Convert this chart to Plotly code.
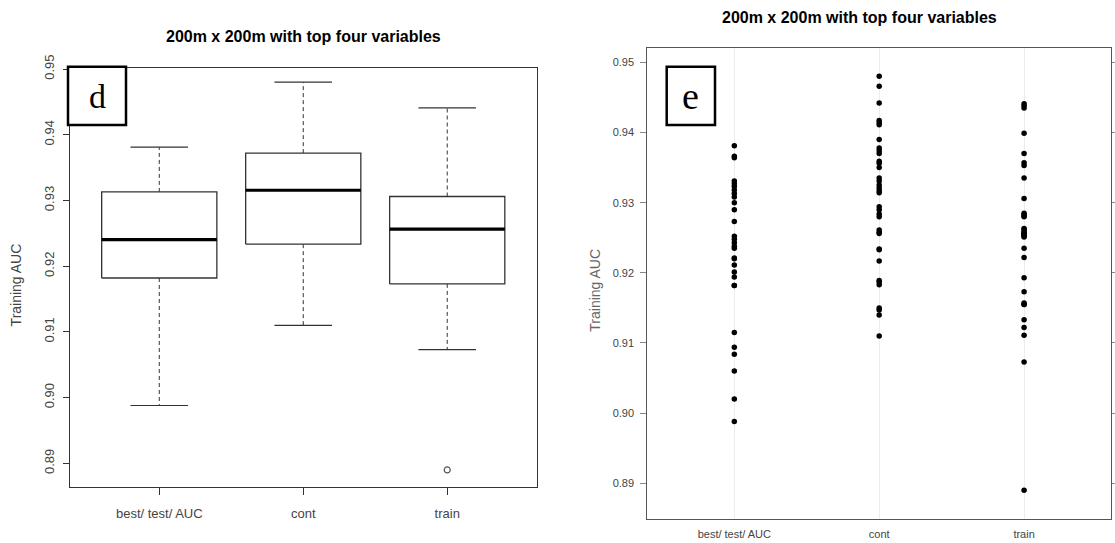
import numpy as np
import plotly.graph_objects as go

# ---------------- data ----------------
categories = ["best/ test/ AUC", "cont", "train"]

best_auc = [0.9381, 0.9366, 0.9364, 0.9331, 0.9327, 0.9323, 0.9318, 0.9313, 0.9308,
            0.9300, 0.9290, 0.9273, 0.9252, 0.9248, 0.9243, 0.9238, 0.9235, 0.9221,
            0.9220, 0.9211, 0.9201, 0.9194, 0.9182, 0.9182, 0.9115, 0.9094, 0.9084,
            0.9060, 0.9020, 0.8988]

cont_auc = [0.9480, 0.9466, 0.9442, 0.9417, 0.9414, 0.9411, 0.9390, 0.9378, 0.9374,
            0.9370, 0.9359, 0.9356, 0.9350, 0.9335, 0.9331, 0.9325, 0.9321, 0.9317,
            0.9314, 0.9294, 0.9290, 0.9284, 0.9280, 0.9261, 0.9258, 0.9256, 0.9234,
            0.9233, 0.9217, 0.9189, 0.9187, 0.9183, 0.9150, 0.9147, 0.9140, 0.9110]

train_auc = [0.9441, 0.9438, 0.9435, 0.9399, 0.9370, 0.9357, 0.9353, 0.9335, 0.9306,
             0.9285, 0.9283, 0.9281, 0.9280, 0.9263, 0.9262, 0.9259, 0.9257, 0.9256,
             0.9255, 0.9254, 0.9252, 0.9251, 0.9235, 0.9222, 0.9193, 0.9173, 0.9157,
             0.9155, 0.9155, 0.9133, 0.9122, 0.9111, 0.9073, 0.8890]

groups = [best_auc, cont_auc, train_auc]

left_y_ticks = [0.89, 0.90, 0.91, 0.92, 0.93, 0.94, 0.95]
left_y_ticktext = ["0.89", "0.90", "0.91", "0.92", "0.93", "0.94", "0.95"]
right_y_ticks = [0.89, 0.90, 0.91, 0.92, 0.93, 0.94, 0.95]
right_y_ticktext = ["0.89", "0.90", "0.91", "0.92", "0.93", "0.94", "0.95"]

title_text = "200m x 200m with top four variables"
y_title = "Training AUC"


def fivenum(v):
    x = np.sort(np.asarray(v, dtype=float))
    n = len(x)
    n4 = np.floor((n + 3) / 2) / 2
    d = np.array([1, n4, (n + 1) / 2, n + 1 - n4, n])
    return 0.5 * (x[np.floor(d).astype(int) - 1] + x[np.ceil(d).astype(int) - 1])


def box_stats(v, coef=1.5):
    x = np.asarray(v, dtype=float)
    s = fivenum(x)
    iqr = s[3] - s[1]
    out = (x < s[1] - coef * iqr) | (x > s[3] + coef * iqr)
    inside = x[~out]
    return dict(lo=inside.min(), q1=s[1], med=s[2], q3=s[3], hi=inside.max(),
                out=list(x[out]))


W, H = 1115, 543
fig = go.Figure()

BOXC = "#333333"
hw = 0.4    # half box width (R boxwex 0.8)
cw = 0.2    # half staple width

for i, g in enumerate(groups):
    st = box_stats(g)
    c = i + 1
    fig.add_trace(go.Scatter(x=[c, c, None, c, c],
                             y=[st["q3"], st["hi"], None, st["q1"], st["lo"]],
                             mode="lines", line=dict(color=BOXC, width=1, dash="4px,3px"),
                             xaxis="x", yaxis="y", showlegend=False, hoverinfo="skip"))
    fig.add_trace(go.Scatter(x=[c - cw, c + cw, None, c - cw, c + cw],
                             y=[st["hi"], st["hi"], None, st["lo"], st["lo"]],
                             mode="lines", line=dict(color=BOXC, width=1.2),
                             xaxis="x", yaxis="y", showlegend=False, hoverinfo="skip"))
    fig.add_trace(go.Scatter(x=[c - hw, c + hw, c + hw, c - hw, c - hw],
                             y=[st["q1"], st["q1"], st["q3"], st["q3"], st["q1"]],
                             mode="lines", fill="toself", fillcolor="white",
                             line=dict(color=BOXC, width=1.3),
                             xaxis="x", yaxis="y", showlegend=False, hoverinfo="skip"))
    fig.add_trace(go.Scatter(x=[c - hw, c + hw], y=[st["med"], st["med"]],
                             mode="lines", line=dict(color="black", width=3.2),
                             xaxis="x", yaxis="y", showlegend=False, hoverinfo="skip"))
    if st["out"]:
        fig.add_trace(go.Scatter(x=[c] * len(st["out"]), y=st["out"], mode="markers",
                                 marker=dict(symbol="circle-open", size=6,
                                             color="#555555", line=dict(width=1.2)),
                                 xaxis="x", yaxis="y", showlegend=False))

for i, g in enumerate(groups):
    fig.add_trace(go.Scatter(x=[i + 1] * len(g), y=g, mode="markers",
                             marker=dict(color="black", size=5.5),
                             xaxis="x2", yaxis="y2", showlegend=False))


def px_x(v):
    return v / W


def px_y(v):
    return (H - v) / H


left_font = dict(family="Liberation Sans, Arial", size=13, color="#444444")
right_font = dict(family="Liberation Sans, Arial", size=11, color="#444444")

fig.update_layout(
    template="none",
    width=W, height=H,
    margin=dict(l=0, r=0, t=0, b=0, pad=0, autoexpand=False),
    paper_bgcolor="white", plot_bgcolor="white",
    xaxis=dict(domain=[px_x(70), px_x(536.5)], range=[0.38, 3.62], automargin=False,
               tickvals=[1, 2, 3], ticktext=categories, ticks="outside", ticklen=7,
               tickcolor=BOXC, showline=True, linecolor=BOXC, linewidth=1.3, mirror=True,
               showgrid=False, zeroline=False, tickfont=left_font, ticklabelstandoff=8),
    yaxis=dict(domain=[px_y(486.7), px_y(67.7)], range=[0.88644, 0.9502], automargin=False,
               tickvals=left_y_ticks, ticktext=left_y_ticktext, ticks="outside", ticklen=6,
               tickcolor=BOXC, tickangle=-90, showline=True, linecolor=BOXC, linewidth=1.3,
               mirror=True, showgrid=False, zeroline=False, tickfont=left_font,
               anchor="x", ticklabelstandoff=4),
    xaxis2=dict(domain=[px_x(647.4), px_x(1111)], range=[0.4, 3.6], automargin=False,
                tickvals=[1, 2, 3], ticktext=categories, ticks="",
                showline=True, linecolor="#555555", linewidth=1.3, mirror=True,
                showgrid=True, gridcolor="#ececec", gridwidth=1, zeroline=False,
                tickfont=right_font, anchor="y2", ticklabelstandoff=4),
    yaxis2=dict(domain=[px_y(519.3), px_y(48.3)], range=[0.88487, 0.9520], automargin=False,
                tickvals=right_y_ticks, ticktext=right_y_ticktext, ticks="outside",
                ticklen=6, tickcolor="#888888", showline=True, linecolor="#555555",
                linewidth=1.3, mirror="ticks", showgrid=False, zeroline=False,
                tickfont=right_font, anchor="x2", ticklabelstandoff=4),
)

title_font = dict(family="Liberation Sans, Arial", size=16, color="black")
annotations = [
    dict(text="<b>" + title_text + "</b>", x=px_x(303.6), y=px_y(36.8), xref="paper",
         yref="paper", showarrow=False, xanchor="center", yanchor="middle", font=title_font),
    dict(text="<b>" + title_text + "</b>", x=px_x(859), y=px_y(17), xref="paper",
         yref="paper", showarrow=False, xanchor="center", yanchor="middle", font=title_font),
    dict(text=y_title, x=px_x(16), y=px_y(285.4), xref="paper", yref="paper",
         showarrow=False, textangle=-90, xanchor="center", yanchor="middle",
         font=dict(family="Liberation Sans, Arial", size=14, color="#444444")),
    dict(text=y_title, x=px_x(595.4), y=px_y(290.3), xref="paper", yref="paper",
         showarrow=False, textangle=-90, xanchor="center", yanchor="middle",
         font=dict(family="Liberation Sans, Arial", size=14, color="#666666")),
    dict(text="d", x=px_x(97), y=px_y(96), xref="paper", yref="paper", showarrow=False,
         xanchor="center", yanchor="middle",
         font=dict(family="Liberation Serif, Times New Roman", size=34, color="black")),
    dict(text="e", x=px_x(690.8), y=px_y(96), xref="paper", yref="paper", showarrow=False,
         xanchor="center", yanchor="middle",
         font=dict(family="Liberation Serif, Times New Roman", size=38, color="black")),
]
fig.update_layout(annotations=annotations)

shapes = [
    dict(type="rect", xref="paper", yref="paper", x0=px_x(68), x1=px_x(126),
         y0=px_y(125), y1=px_y(66.7), line=dict(color="black", width=2.5),
         fillcolor="white", layer="above"),
    dict(type="rect", xref="paper", yref="paper", x0=px_x(666.7), x1=px_x(715),
         y0=px_y(125), y1=px_y(66.7), line=dict(color="black", width=2.5),
         fillcolor="white", layer="above"),
]
fig.update_layout(shapes=shapes)

fig.write_html("out.html", config={"displayModeBar": False},
               post_script="document.body.style.margin='0';document.body.style.overflow='hidden';")
